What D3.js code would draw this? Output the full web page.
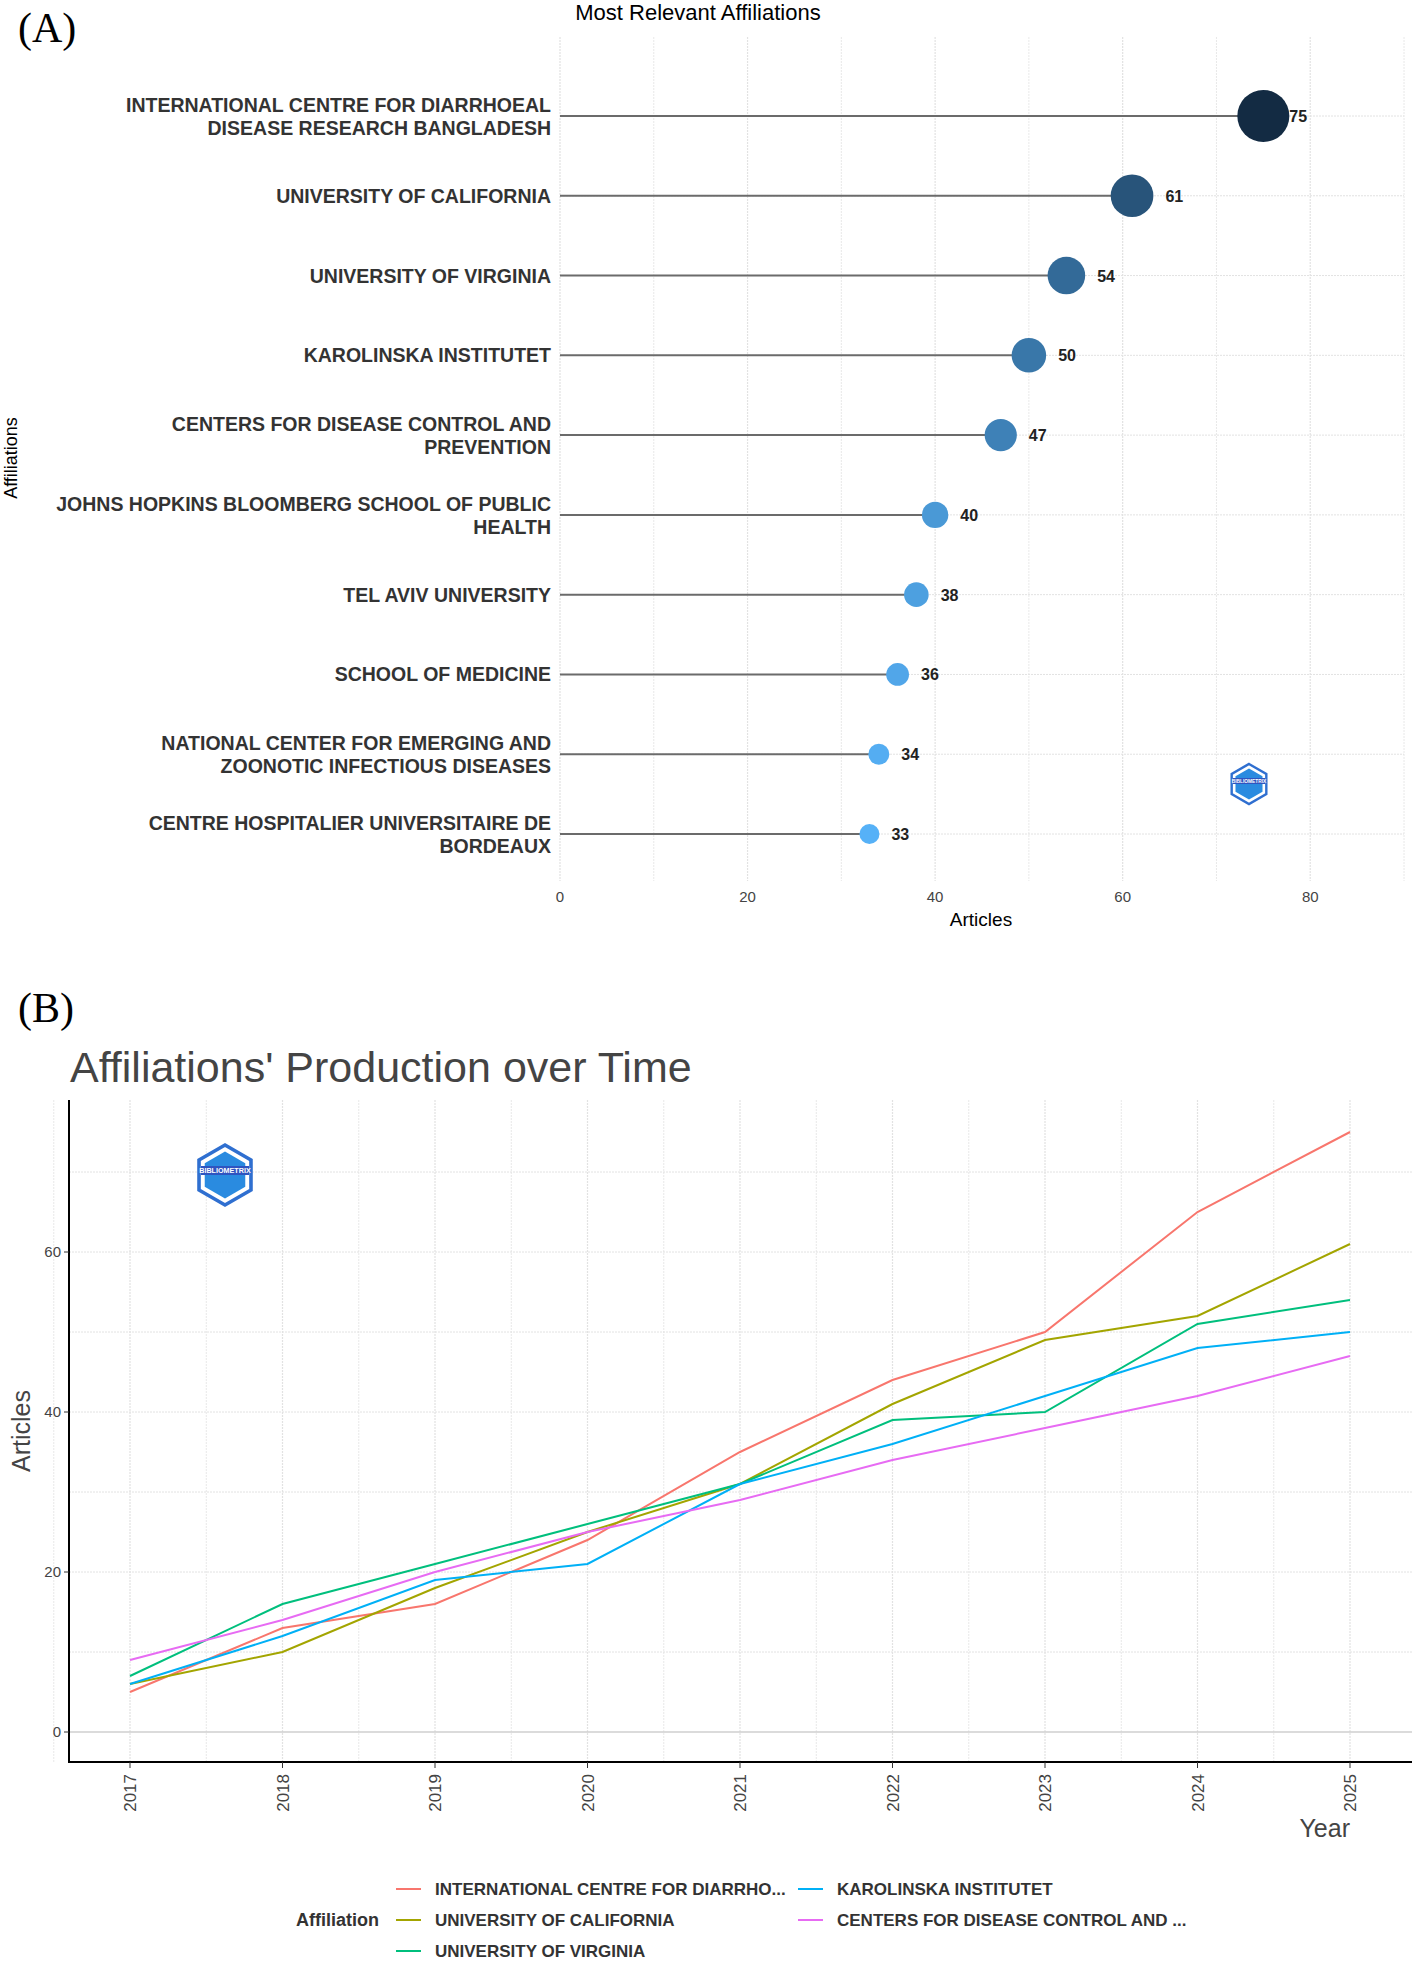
<!DOCTYPE html>
<html><head><meta charset="utf-8">
<script src="https://cdn.jsdelivr.net/npm/d3@7"></script>
<style>body{margin:0;background:#fff}text{font-family:"Liberation Sans",Arial,sans-serif}</style>
</head><body>
<svg id="chart" width="1417" height="1967"></svg>
<script>
// panel A data
const affiliations = [
  ["INTERNATIONAL CENTRE FOR DIARRHOEAL","DISEASE RESEARCH BANGLADESH"],
  ["UNIVERSITY OF CALIFORNIA"],
  ["UNIVERSITY OF VIRGINIA"],
  ["KAROLINSKA INSTITUTET"],
  ["CENTERS FOR DISEASE CONTROL AND","PREVENTION"],
  ["JOHNS HOPKINS BLOOMBERG SCHOOL OF PUBLIC","HEALTH"],
  ["TEL AVIV UNIVERSITY"],
  ["SCHOOL OF MEDICINE"],
  ["NATIONAL CENTER FOR EMERGING AND","ZOONOTIC INFECTIOUS DISEASES"],
  ["CENTRE HOSPITALIER UNIVERSITAIRE DE","BORDEAUX"]
];
const articles = [75,61,54,50,47,40,38,36,34,33];

// panel B data
const years = [2017,2018,2019,2020,2021,2022,2023,2024,2025];
const seriesNames = ["INTERNATIONAL CENTRE FOR DIARRHO...","UNIVERSITY OF CALIFORNIA","UNIVERSITY OF VIRGINIA","KAROLINSKA INSTITUTET","CENTERS FOR DISEASE CONTROL AND ..."];
const seriesColors = ["#F8766D","#A3A500","#00BF7D","#00B0F6","#E76BF3"];
const icddrb = [5,13,16,24,35,44,50,65,75];
const ucal   = [6,10,18,25,31,41,49,52,61];
const uva    = [7,16,21,26,31,39,40,51,54];
const ki     = [6,12,19,21,31,36,42,48,50];
const cdc    = [9,14,20,25,29,34,38,42,47];
const seriesValues = [icddrb,ucal,uva,ki,cdc];

const svg = d3.select("#chart");
const grid = "#e2e2e2";

function logo(g, x, y, s){
  const hex = d3.range(6).map(i=>{const a=Math.PI/3*i-Math.PI/2;return [x+s*Math.cos(a),y+s*Math.sin(a)];});
  g.append("polygon").attr("points",hex.join(" ")).attr("fill","#fff").attr("stroke","#2f6fd0").attr("stroke-width",s*0.12);
  const inner = hex.map(p=>[x+(p[0]-x)*0.78,y+(p[1]-y)*0.78]);
  g.append("polygon").attr("points",inner.join(" ")).attr("fill","#2a8be0");
  g.append("rect").attr("x",x-s*0.8).attr("y",y-s*0.3).attr("width",s*1.6).attr("height",s*0.3).attr("fill","#2f55c0");
  g.append("text").attr("x",x).attr("y",y-s*0.07).attr("text-anchor","middle").attr("font-size",s*0.24).attr("font-weight","bold").attr("fill","#fff").text("BIBLIOMETRIX");
}

// ---------- Panel A ----------
svg.append("text").attr("x",18).attr("y",42).style("font-family","'Liberation Serif',serif").attr("font-size",42).text("(A)");
const x = d3.scaleLinear().domain([0,90]).range([560,1404]);
const y = d3.scalePoint().domain(d3.range(10)).range([116,834]);
const A = svg.append("g");
A.selectAll(".vg").data(d3.range(0,91,10)).enter().append("line")
  .attr("x1",d=>x(d)).attr("x2",d=>x(d)).attr("y1",37).attr("y2",881)
  .attr("stroke",grid).attr("stroke-width",d=>d%20?0.8:1.2).attr("stroke-dasharray","2,1");
A.selectAll(".hg").data(d3.range(10)).enter().append("line")
  .attr("x1",560).attr("x2",1404).attr("y1",d=>y(d)).attr("y2",d=>y(d))
  .attr("stroke",grid).attr("stroke-dasharray","2,1");
const color = d3.scaleLinear().domain([33,75]).range(["#56B1F7","#132B43"]).interpolate(d3.interpolateLab);
const r = d3.scaleSqrt().domain([33,75]).range([10,26]);
A.selectAll(".seg").data(articles).enter().append("line")
  .attr("x1",x(0)).attr("x2",d=>x(d)).attr("y1",(d,i)=>y(i)).attr("y2",(d,i)=>y(i))
  .attr("stroke","#6b6b6b").attr("stroke-width",2);
A.selectAll(".dot").data(articles).enter().append("circle")
  .attr("cx",d=>x(d)).attr("cy",(d,i)=>y(i)).attr("r",d=>r(d)).attr("fill",d=>color(d));
A.selectAll(".val").data(articles).enter().append("text")
  .attr("x",d=>x(d)+r(d)+(d==75?0:12)).attr("y",(d,i)=>y(i)+6)
  .attr("font-size",16).attr("font-weight","bold").attr("fill","#222").text(d=>d);
A.selectAll(".lab").data(affiliations).enter().append("text")
  .attr("text-anchor","end").attr("font-size",19.5).attr("font-weight","bold").attr("fill","#333")
  .each(function(d,i){
    const t=d3.select(this);
    const y0 = y(i) + (d.length==2 ? -4 : 7);
    d.forEach((s,k)=>t.append("tspan").attr("x",551).attr("y",y0+k*23).text(s));
  });
A.selectAll(".tk").data(d3.range(0,81,20)).enter().append("text")
  .attr("x",d=>x(d)).attr("y",902).attr("text-anchor","middle").attr("font-size",15).attr("fill","#444").text(d=>d);
A.append("text").attr("x",981).attr("y",926).attr("text-anchor","middle").attr("font-size",19).text("Articles");
A.append("text").attr("transform","translate(17,458) rotate(-90)").attr("text-anchor","middle").attr("font-size",18).text("Affiliations");
A.append("text").attr("x",698).attr("y",20).attr("text-anchor","middle").attr("font-size",22).text("Most Relevant Affiliations");
logo(A,1249,784,20);

// ---------- Panel B ----------
svg.append("text").attr("x",18).attr("y",1022).style("font-family","'Liberation Serif',serif").attr("font-size",42).text("(B)");
const bx = d3.scalePoint().domain(years).range([130,1350]);
const by = d3.scaleLinear().domain([0,60]).range([1732,1252]);
const B = svg.append("g");
const step = bx.step();
B.selectAll(".bvg").data(d3.range(2016.5,2025.6,0.5)).enter().append("line")
  .attr("x1",d=>130+(d-2017)*step).attr("x2",d=>130+(d-2017)*step).attr("y1",1100).attr("y2",1762)
  .attr("stroke",grid).attr("stroke-width",d=>d%1?0.8:1.2).attr("stroke-dasharray","2,1");
B.selectAll(".bhg").data(d3.range(0,71,10)).enter().append("line")
  .attr("x1",69).attr("x2",1412).attr("y1",d=>by(d)).attr("y2",d=>by(d))
  .attr("stroke",d=>d==0?"#cfcfcf":grid).attr("stroke-width",d=>d==0?1.5:1).attr("stroke-dasharray",d=>d==0?null:"2,1");
B.append("line").attr("x1",69).attr("x2",69).attr("y1",1100).attr("y2",1763).attr("stroke","#000").attr("stroke-width",2);
B.append("line").attr("x1",68).attr("x2",1412).attr("y1",1762).attr("y2",1762).attr("stroke","#000").attr("stroke-width",2);
const line = d3.line().x((d,i)=>bx(years[i])).y(d=>by(d));
B.selectAll(".ser").data(seriesValues).enter().append("path")
  .attr("d",d=>line(d)).attr("fill","none").attr("stroke",(d,i)=>seriesColors[i]).attr("stroke-width",2);
B.selectAll(".yt").data([0,20,40,60]).enter().append("text")
  .attr("x",61).attr("y",d=>by(d)+5).attr("text-anchor","end").attr("font-size",15).attr("fill","#444").text(d=>d);
B.selectAll(".ytk").data([0,20,40,60]).enter().append("line")
  .attr("x1",64).attr("x2",69).attr("y1",d=>by(d)).attr("y2",d=>by(d)).attr("stroke","#333");
B.selectAll(".xtk").data(years).enter().append("line")
  .attr("x1",d=>bx(d)).attr("x2",d=>bx(d)).attr("y1",1762).attr("y2",1768).attr("stroke","#333");
B.selectAll(".xt").data(years).enter().append("text")
  .attr("transform",d=>`translate(${bx(d)+6},1774) rotate(-90)`).attr("text-anchor","end")
  .attr("font-size",17).attr("fill","#444").text(d=>d);
B.append("text").attr("x",1350).attr("y",1837).attr("text-anchor","end").attr("font-size",25).attr("fill","#444").text("Year");
B.append("text").attr("transform","translate(30,1431) rotate(-90)").attr("text-anchor","middle").attr("font-size",25).attr("fill","#444").text("Articles");
B.append("text").attr("x",70).attr("y",1082).attr("font-size",43).attr("fill","#444").text("Affiliations' Production over Time");
logo(B,225,1175,30);
// legend
B.append("text").attr("x",296).attr("y",1926).attr("font-size",18).attr("font-weight","bold").attr("fill","#333").text("Affiliation");
const legPos = [[396,1889],[396,1920],[396,1951],[798,1889],[798,1920]];
const leg = B.selectAll(".leg").data(seriesNames).enter().append("g")
  .attr("transform",(d,i)=>`translate(${legPos[i][0]},${legPos[i][1]})`);
leg.append("line").attr("x1",0).attr("x2",25).attr("stroke",(d,i)=>seriesColors[i]).attr("stroke-width",2);
leg.append("text").attr("x",39).attr("y",6).attr("font-size",17).attr("font-weight","bold").attr("fill","#333").text(d=>d);
</script>
</body></html>
